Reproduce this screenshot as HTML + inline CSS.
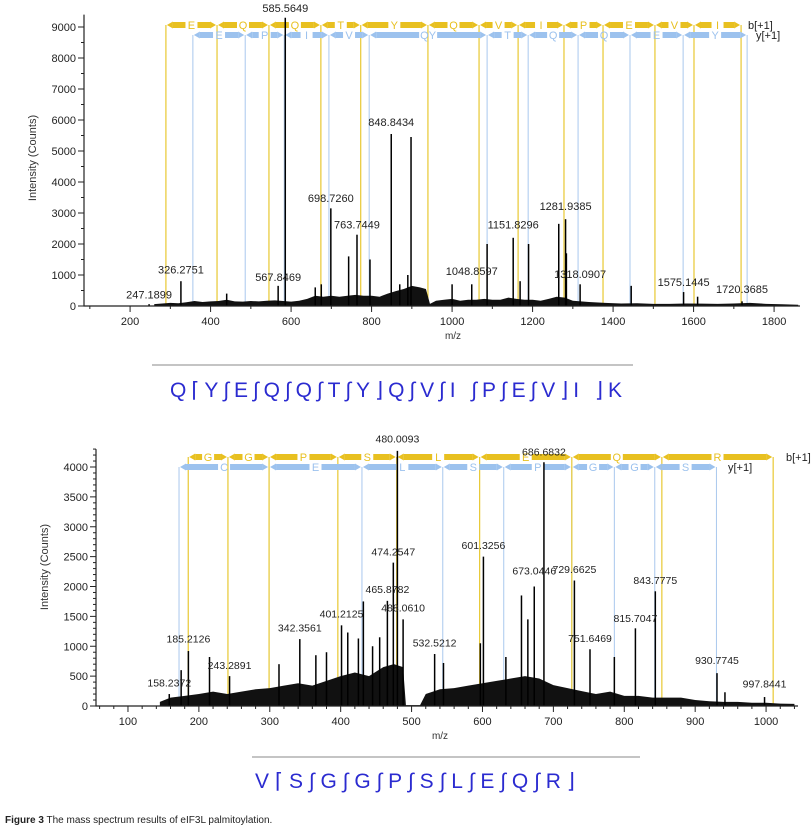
<!DOCTYPE html>
<html><head><meta charset="utf-8">
<style>
html,body{margin:0;padding:0;background:#fff;}
body{width:812px;height:839px;overflow:hidden;position:relative;font-family:"Liberation Sans",Arial,sans-serif;}
svg{position:absolute;left:0;top:0;}
.cap{position:absolute;left:5px;top:815px;font-size:10px;color:#222;white-space:nowrap;}
</style></head>
<body>
<svg id="fig" width="812" height="839" viewBox="0 0 812 839"></svg>
<div class="cap"><b>Figure 3</b> The mass spectrum results of eIF3L palmitoylation.</div>
<script>
// ===== Top chart data =====
const topPeakMz = [247.19,326.28,567.85,585.56,698.73,743,763.74,796,848.84,870,890,898,1000,1048.86,1087,1151.83,1169,1190,1265,1281.94,1284,1318.09,1445,1575.14,1610,1720.37,440,660,675];
const topPeakInt = [60,800,650,9300,3150,1600,2300,1500,5550,700,1000,5450,700,700,2000,2200,800,2000,2650,2800,1700,700,650,450,300,150,400,600,700];
const topNoiseMz = [260,280,300,320,340,360,380,400,420,440,460,480,500,520,540,560,580,600,620,640,660,680,700,720,740,760,780,800,820,840,860,880,900,920,935,945,960,980,1000,1020,1040,1060,1080,1100,1120,1140,1160,1180,1200,1220,1240,1260,1280,1300,1340,1380,1420,1460,1500,1540,1580,1620,1660,1700,1740,1780,1820,1860];
const topNoiseInt = [60,80,100,90,120,160,130,150,160,200,150,140,160,150,170,180,160,140,170,230,330,300,330,300,330,360,330,330,300,400,480,550,650,600,550,70,170,200,230,170,200,200,230,200,200,270,230,200,200,170,230,300,270,170,130,100,80,90,70,70,80,75,70,80,100,70,55,40];
const topTickX = [200,400,600,800,1000,1200,1400,1600,1800];
const topTickY = [0,1000,2000,3000,4000,5000,6000,7000,8000,9000];
const topLabelText = ["585.5649","848.8434","698.7260","763.7449","326.2751","567.8469","247.1899","1048.8597","1151.8296","1281.9385","1318.0907","1575.1445","1720.3685"];
const topLabelMz = [585.56,848.84,698.73,763.74,326.28,567.85,247.19,1048.86,1151.83,1281.94,1318.09,1575.14,1720.37];
const topLabelInt = [9480,5800,3350,2500,1050,800,250,1000,2500,3100,900,650,420];
const topBLines = [289,416,545,674,773,940,1067,1164,1278,1375,1504,1601,1718];
const topBLetters = ["E","Q","Q","T","Y","Q","V","I","P","E","V","I"];
const topYLines = [356,486,583,694,794,1087,1189,1313,1442,1574,1733];
const topYLetters = ["E","P","I","V","QY","T","Q","Q","E","Y"];

// ===== Bottom chart data =====
const botPeakMz = [158.24,175,185.21,215,243.29,342.36,365,401.21,410,425,432,465.88,474.25,480.01,488.06,532.52,545,597,601.33,633,655,664,673.04,686.68,729.66,751.65,786,815.7,843.78,930.77,942,997.84,313,380,445,455];
const botPeakInt = [200,600,920,820,500,1120,850,1350,1230,1130,1750,1760,2400,4270,1450,870,720,1050,2500,820,1850,1450,2000,4080,2100,950,820,1300,1920,550,230,150,700,900,1000,1150];
const botNoiseMz = [145,160,180,200,220,240,260,280,300,320,340,360,380,400,420,440,460,475,488,492,512,520,540,560,580,600,620,640,660,680,700,720,740,760,780,800,820,840,860,880,900,920,940,960,980,1000,1020,1040];
const botNoiseInt = [70,140,170,200,240,200,240,280,300,340,380,340,420,500,560,500,650,700,650,15,15,200,280,300,340,380,420,460,500,460,350,300,250,200,240,170,170,140,140,140,100,80,70,70,55,55,40,35];
const botTickX = [100,200,300,400,500,600,700,800,900,1000];
const botTickY = [0,500,1000,1500,2000,2500,3000,3500,4000];
const botLabelText = ["480.0093","686.6832","601.3256","474.2547","729.6625","673.0446","843.7775","465.8782","488.0610","401.2125","815.7047","342.3561","185.2126","532.5212","751.6469","243.2891","930.7745","158.2372","997.8441"];
const botLabelMz = [480.01,686.68,601.33,474.25,729.66,673.04,843.78,465.88,488.06,401.21,815.7,342.36,185.21,532.52,751.65,243.29,930.77,158.24,997.84];
const botLabelInt = [4410,4190,2630,2520,2230,2200,2040,1890,1580,1480,1410,1250,1060,1000,1070,620,700,330,310];
const botBLines = [185,241,299,396,479,596,726,853,1010];
const botBLetters = ["G","G","P","S","L","E","Q","R"];
const botYLines = [172,299,430,544,630,726,786,843,930];
const botYLetters = ["C","E","L","S","P","G","G","S"];

const NS="http://www.w3.org/2000/svg";
const svg=document.getElementById('fig');
function mk(tag,attrs,parent){const e=document.createElementNS(NS,tag);for(const k in attrs)e.setAttribute(k,attrs[k]);(parent||svg).appendChild(e);return e;}

function drawChart(c){
  const g=mk('g',{});
  
  
  const X=m=>c.x0+(m-c.mz0)*c.sx;
  const Y=v=>c.y0-v*c.sy;
  const yb=c.bRowY, yy=c.yRowY;
  c.yLines.forEach(m=>{const l=mk('line',{x1:X(m),x2:X(m),y1:yy,y2:c.y0,stroke:'#a9c8ee','stroke-width':1},g);
    });
  c.bLines.forEach(m=>{const l=mk('line',{x1:X(m),x2:X(m),y1:yb,y2:c.y0,stroke:'#e8c832','stroke-width':1.2},g);
    });
  function row(lines,letters,y,col,name){
    for(let i=0;i<letters.length;i++){
      const a=X(lines[i]),b=X(lines[i+1]),mid=(a+b)/2;
      const tw=letters[i].length*6+6;
      const r1=mk('polygon',{points:`${a+1},${y} ${a+7},${y-3.5} ${a+7},${y+3.5}`,fill:col},g);
      
      if(mid-tw/2>a+8){const r=mk('rect',{x:a+7,y:y-3,width:mid-tw/2-a-7,height:6,fill:col},g);
        }
      if(b-7>mid+tw/2){const r=mk('rect',{x:mid+tw/2,y:y-3,width:b-7-mid-tw/2,height:6,fill:col},g);
        }
      const r2=mk('polygon',{points:`${b-1},${y} ${b-7},${y-3.5} ${b-7},${y+3.5}`,fill:col},g);
      
      const t=mk('text',{x:mid,y:y+4,'text-anchor':'middle','font-size':11,fill:col},g);
      t.textContent=letters[i];
      
    }
  }
  row(c.bLines,c.bLetters,yb,'#e8c020','b-ion');
  row(c.yLines,c.yLetters,yy,'#9cc2ee','y-ion');
  const bl=mk('text',{x:c.bLabelX,y:yb+4,'font-size':11,fill:'#222'},g);bl.textContent='b[+1]';
  
  const yl=mk('text',{x:c.yLabelX,y:yy+4,'font-size':11,fill:'#222'},g);yl.textContent='y[+1]';
  
  let pts=`${X(c.noiseMz[0])},${c.y0} `;
  c.noiseMz.forEach((m,i)=>{pts+=`${X(m)},${Y(c.noiseInt[i])} `;});
  pts+=`${X(c.noiseMz[c.noiseMz.length-1])},${c.y0}`;
  const na=mk('polygon',{points:pts,fill:'#111'},g);
  
  c.peakMz.forEach((m,i)=>{const p=mk('line',{x1:X(m),x2:X(m),y1:c.y0,y2:Y(c.peakInt[i]),stroke:'#000','stroke-width':1.5},g);
    });
  c.labelText.forEach((s,i)=>{const t=mk('text',{x:X(c.labelMz[i]),y:Y(c.labelInt[i]),'text-anchor':'middle','font-size':c.lfs,fill:'#222'},g);
    t.textContent=s;});
  const ax=mk('path',{d:`M${c.x0},${Y(c.yMax)} V${c.y0} H${c.xEnd}`,stroke:'#222','stroke-width':1.2,fill:'none'},g);
  
  for(let v=0;v<=c.yMax;v+=c.yMinor){const major=c.tickY.includes(v);
    mk('line',{x1:c.x0-(major?6:3),x2:c.x0,y1:Y(v),y2:Y(v),stroke:'#222'},g);}
  c.tickY.forEach(v=>{const t=mk('text',{x:c.x0-8,y:Y(v)+4,'text-anchor':'end','font-size':11,fill:'#222'},g);
    t.textContent=v;});
  for(let m=Math.ceil(c.mz0/c.xMinor)*c.xMinor;X(m)<=c.xEnd;m+=c.xMinor){const major=c.tickX.includes(m);
    mk('line',{x1:X(m),x2:X(m),y1:c.y0,y2:c.y0+(major?6:3),stroke:'#222'},g);}
  c.tickX.forEach(m=>{const t=mk('text',{x:X(m),y:c.y0+19,'text-anchor':'middle','font-size':11,fill:'#222'},g);
    t.textContent=m;});
  const xt=mk('text',{x:c.xTitleX,y:c.y0+33,'text-anchor':'middle','font-size':10,fill:'#333'},g);xt.textContent='m/z';
  
  const yt=mk('text',{x:c.yTitleX,y:c.yTitleY,'text-anchor':'middle','font-size':11,fill:'#333',transform:`rotate(-90 ${c.yTitleX} ${c.yTitleY})`},g);
  yt.textContent='Intensity (Counts)';
}

drawChart({name:'top-spectrum',x0:84,y0:306,mz0:85.5,sx:0.4025,sy:0.031,xEnd:800,yMax:9400,yMinor:500,xMinor:100,
  tickX:topTickX,tickY:topTickY,peakMz:topPeakMz,peakInt:topPeakInt,noiseMz:topNoiseMz,noiseInt:topNoiseInt,
  labelText:topLabelText,labelMz:topLabelMz,labelInt:topLabelInt,lfs:11,
  bLines:topBLines,bLetters:topBLetters,yLines:topYLines,yLetters:topYLetters,bRowY:25,yRowY:35,bLabelX:748,yLabelX:756,
  xTitleX:453,yTitleX:36,yTitleY:158});
drawChart({name:'bottom-spectrum',x0:96,y0:706,mz0:54.9,sx:0.709,sy:0.05975,xEnd:798,yMax:4300,yMinor:100,xMinor:20,
  tickX:botTickX,tickY:botTickY,peakMz:botPeakMz,peakInt:botPeakInt,noiseMz:botNoiseMz,noiseInt:botNoiseInt,
  labelText:botLabelText,labelMz:botLabelMz,labelInt:botLabelInt,lfs:10.5,
  bLines:botBLines,bLetters:botBLetters,yLines:botYLines,yLetters:botYLetters,bRowY:457,yRowY:467,bLabelX:786,yLabelX:728,
  xTitleX:440,yTitleX:48,yTitleY:567});

const s1=mk('line',{x1:152,x2:633,y1:365,y2:365,stroke:'#888','stroke-width':1});

const q1=mk('text',{x:396,y:397,'text-anchor':'middle','font-size':21,fill:'#2b2bd0',textLength:452});
q1.textContent='Q⌈Y∫E∫Q∫Q∫T∫Y⌋Q∫V∫I ∫P∫E∫V⌋I ⌋K';

const s2=mk('line',{x1:252,x2:640,y1:757,y2:757,stroke:'#888','stroke-width':1});

const q2=mk('text',{x:415,y:788,'text-anchor':'middle','font-size':21,fill:'#2b2bd0',textLength:320});
q2.textContent='V⌈S∫G∫G∫P∫S∫L∫E∫Q∫R⌋';

</script>
</body></html>
